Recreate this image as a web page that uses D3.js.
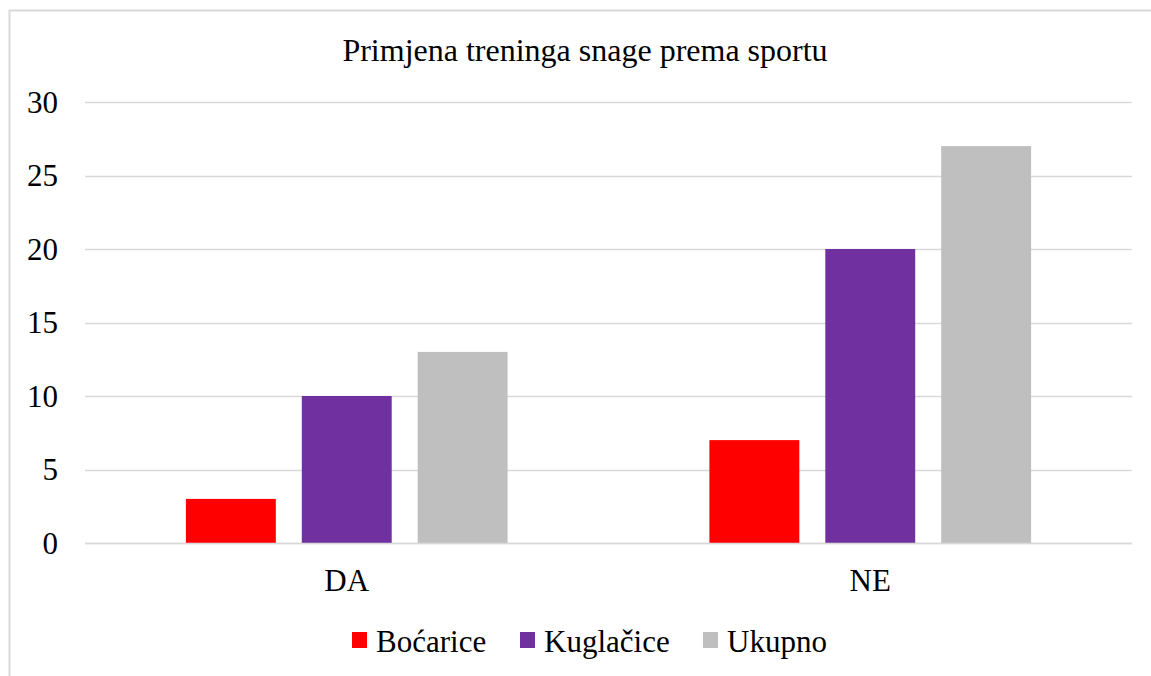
<!DOCTYPE html>
<html>
<head>
<meta charset="utf-8">
<script src="https://cdn.jsdelivr.net/npm/d3@7"></script>
<style>
  body { margin: 0; background: #fff; }
  text { font-family: "Liberation Serif", "Times New Roman", serif; fill: #000; }
</style>
</head>
<body>
<script>
var width = 1151,
    height = 676;

var categories = ["DA", "NE"];
var series = ["Boćarice", "Kuglačice", "Ukupno"];
var colors = ["#ff0000", "#7030a0", "#bfbfbf"];
var bocarice = [3, 7];
var kuglacice = [10, 20];
var ukupno = [13, 27];
var yTicks = [0, 5, 10, 15, 20, 25, 30];
var values = [bocarice, kuglacice, ukupno];

var margin = {left: 85, right: 19, top: 102, bottom: 133};

var svg = d3.select("body").append("svg")
    .attr("width", width)
    .attr("height", height);

// chart border (runs off the right/bottom edge like the original)
svg.append("rect")
    .attr("x", 9.5).attr("y", 10.5)
    .attr("width", width).attr("height", height)
    .attr("fill", "none")
    .attr("stroke", "#d9d9d9")
    .attr("stroke-width", 2);

var y = d3.scaleLinear()
    .domain([0, 30])
    .range([height - margin.bottom, margin.top]);

var x0 = d3.scaleBand()
    .domain(categories)
    .range([margin.left, width - margin.right]);

// 3 bars of 90 with gaps of 26 inside a 524 wide band
var x1 = d3.scaleBand()
    .domain(series)
    .range([0, x0.bandwidth()])
    .paddingInner(26 / 116)
    .paddingOuter((524 - 322) / 2 / 116);

// gridlines
svg.append("g")
    .selectAll("line")
    .data(yTicks)
    .enter().append("line")
    .attr("x1", margin.left)
    .attr("x2", width - margin.right)
    .attr("y1", function(d) { return Math.round(y(d)) + 0.5; })
    .attr("y2", function(d) { return Math.round(y(d)) + 0.5; })
    .attr("stroke", "#d9d9d9")
    .attr("stroke-width", 1.5);

// y labels
svg.append("g")
    .selectAll("text")
    .data(yTicks)
    .enter().append("text")
    .attr("x", 58)
    .attr("y", function(d) { return y(d); })
    .attr("dy", "0.35em")
    .attr("text-anchor", "end")
    .style("font-size", "31px")
    .text(function(d) { return d; });

// bars
var groups = svg.append("g")
    .selectAll("g")
    .data(categories)
    .enter().append("g")
    .attr("transform", function(d) { return "translate(" + x0(d) + ",0)"; });

groups.selectAll("rect")
    .data(function(d, i) {
        return series.map(function(s, j) { return {s: s, v: values[j][i], c: colors[j]}; });
    })
    .enter().append("rect")
    .attr("x", function(d) { return x1(d.s); })
    .attr("width", x1.bandwidth())
    .attr("y", function(d) { return y(d.v); })
    .attr("height", function(d) { return y(0) - y(d.v); })
    .attr("fill", function(d) { return d.c; });

// zero line on top
svg.append("line")
    .attr("x1", margin.left)
    .attr("x2", width - margin.right)
    .attr("y1", Math.round(y(0)) + 0.5)
    .attr("y2", Math.round(y(0)) + 0.5)
    .attr("stroke", "#d9d9d9")
    .attr("stroke-width", 1.5);

// x labels
svg.append("g")
    .selectAll("text")
    .data(categories)
    .enter().append("text")
    .attr("x", function(d) { return x0(d) + x0.bandwidth() / 2; })
    .attr("y", 591)
    .attr("text-anchor", "middle")
    .style("font-size", "31px")
    .text(function(d) { return d; });

// title
svg.append("text")
    .attr("x", 585)
    .attr("y", 61)
    .attr("text-anchor", "middle")
    .style("font-size", "32px")
    .text("Primjena treninga snage prema sportu");

// legend
var legendX = [352, 520, 703];
var legend = svg.append("g")
    .selectAll("g")
    .data(series)
    .enter().append("g")
    .attr("transform", function(d, i) { return "translate(" + legendX[i] + ",632)"; });
legend.append("rect")
    .attr("width", 15)
    .attr("height", 16)
    .attr("fill", function(d, i) { return colors[i]; });
legend.append("text")
    .attr("x", 24)
    .attr("y", 20)
    .style("font-size", "31px")
    .text(function(d) { return d; });
</script>
</body>
</html>
